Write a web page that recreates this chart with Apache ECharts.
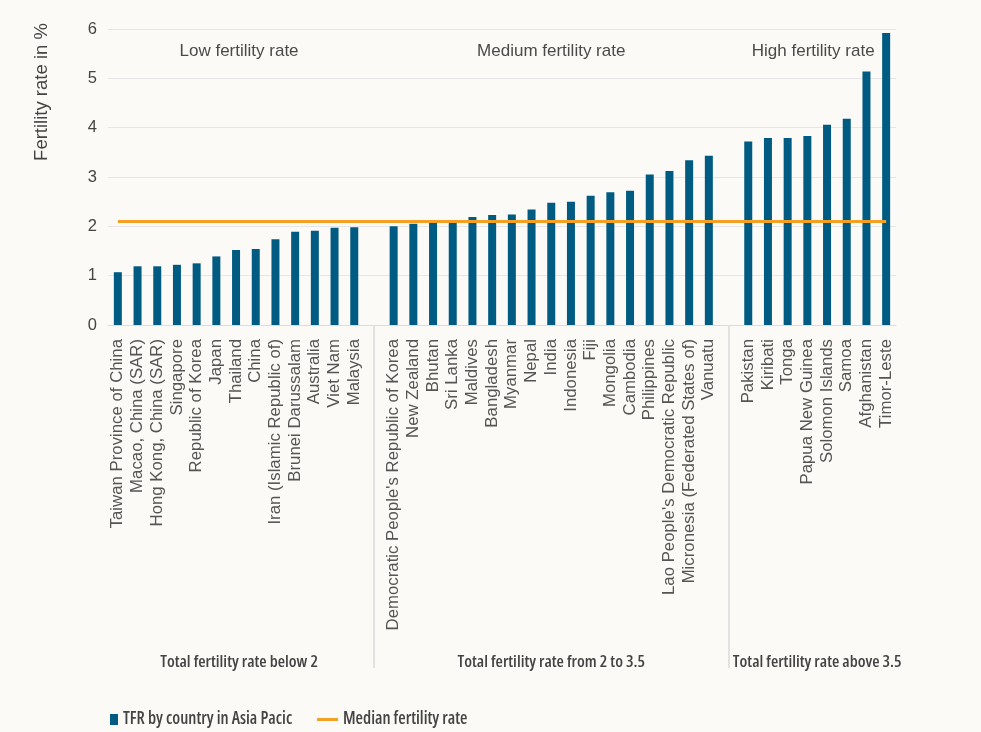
<!DOCTYPE html>
<html><head><meta charset="utf-8">
<script src="https://cdn.jsdelivr.net/npm/echarts@6/dist/echarts.min.js"></script>
<style>html,body{margin:0;padding:0;background:#fbfaf6;}#c{width:981px;height:732px;}</style>
</head><body><div id="c"></div>
<script>
// ---- data ----
const lowCountries = ['Taiwan Province of China','Macao, China (SAR)','Hong Kong, China (SAR)','Singapore','Republic of Korea','Japan','Thailand','China','Iran (Islamic Republic of)','Brunei Darussalam','Australia','Viet Nam','Malaysia'];
const lowValues = [1.07,1.19,1.19,1.22,1.25,1.39,1.52,1.54,1.74,1.89,1.91,1.97,1.98];
const medCountries = ["Democratic People's Republic of Korea",'New Zealand','Bhutan','Sri Lanka','Maldives','Bangladesh','Myanmar','Nepal','India','Indonesia','Fiji','Mongolia','Cambodia','Philippines',"Lao People's Democratic Republic",'Micronesia (Federated States of)','Vanuatu'];
const medValues = [2.00,2.05,2.08,2.08,2.19,2.23,2.24,2.34,2.48,2.50,2.62,2.69,2.72,3.05,3.12,3.34,3.43];
const highCountries = ['Pakistan','Kiribati','Tonga','Papua New Guinea','Solomon Islands','Samoa','Afghanistan','Timor-Leste'];
const highValues = [3.72,3.79,3.79,3.83,4.06,4.18,5.14,5.92];
const medianRate = 2.1;
const yTicks = [0,1,2,3,4,5,6];
const groupTopLabels = ['Low fertility rate','Medium fertility rate','High fertility rate'];
const groupBottomLabels = ['Total fertility rate below 2','Total fertility rate from 2 to 3.5','Total fertility rate above 3.5'];
const seriesNames = ['TFR by country in Asia Pacic','Median fertility rate'];
const yAxisTitle = 'Fertility rate in %';

// ---- build ----
const groups = [[lowCountries, lowValues],[medCountries, medValues],[highCountries, highValues]];
const categories = [], barData = [], gapIdx = [], groupRanges = [];
groups.forEach((g, gi) => {
  if (gi > 0) { gapIdx.push(categories.length); categories.push(' '.repeat(gi)); barData.push('-'); }
  const start = categories.length;
  g[0].forEach((c, i) => { categories.push(c); barData.push(g[1][i]); });
  groupRanges.push([start, categories.length - 1]);
});
const medianData = categories.map(() => medianRate);

// ---- layout / style ----
const BLUE = '#005b82', ORANGE = '#f3a024';
const SANS = "'Liberation Sans', Arial, sans-serif";
const COND = "'Open Sans', sans-serif";
const condText = {fontFamily: COND, fontStyle: 'condensed', fontWeight: 600, fontSize: 17, color: '#444'};
const topLabelShift = [3, 0, -4];
const bottomLabelShift = [3, 0, 0];

const chart = echarts.init(document.getElementById('c'), null, {renderer: 'canvas'});
chart.setOption({
  backgroundColor: '#fbfaf6',
  animation: false,
  grid: {left: 108, right: 85, top: 29, bottom: 407, containLabel: false},
  legend: [
    {data: [{name: seriesNames[0], icon: 'rect'}], left: 105, top: 706, itemWidth: 8, itemHeight: 11, itemGap: 6,
     textStyle: condText},
    {data: [{name: seriesNames[1], icon: 'rect'}], left: 312, top: 706, itemWidth: 21, itemHeight: 3,
     textStyle: condText}
  ],
  xAxis: {
    type: 'category', data: categories,
    axisLine: {show: true, lineStyle: {color: '#dcdcdc', width: 1}},
    axisTick: {show: true, alignWithLabel: true, length: 343,
      interval: (i) => gapIdx.indexOf(i) >= 0,
      lineStyle: {color: '#e2e2e2', width: 2}},
    axisLabel: {interval: 0, rotate: 90, fontFamily: SANS, fontSize: 16.8, color: '#555', margin: 14}
  },
  yAxis: {
    type: 'value', min: yTicks[0], max: yTicks[yTicks.length - 1], interval: 1,
    axisLine: {show: false}, axisTick: {show: false},
    axisLabel: {fontFamily: SANS, fontSize: 16.5, color: '#444', margin: 11},
    splitLine: {lineStyle: {color: '#e6e6e6', width: 1}}
  },
  series: [
    {name: seriesNames[0], type: 'bar', data: barData, barWidth: 8, itemStyle: {color: BLUE}, z: 2},
    {name: seriesNames[1], type: 'line', data: medianData, symbol: 'none', itemStyle: {color: ORANGE},
     lineStyle: {color: ORANGE, width: 3}, z: 3}
  ]
});

const graphics = [];
graphics.push({type: 'text', x: 42, y: 92, rotation: Math.PI / 2,
  style: {text: yAxisTitle, font: '18.5px ' + SANS, fill: '#444', textAlign: 'center', textVerticalAlign: 'middle'}});
groupRanges.forEach((r, gi) => {
  const x0 = chart.convertToPixel({xAxisIndex: 0}, r[0]);
  const x1 = chart.convertToPixel({xAxisIndex: 0}, r[1]);
  const cx = (x0 + x1) / 2;
  graphics.push({type: 'text', x: cx + topLabelShift[gi], y: 51,
    style: {text: groupTopLabels[gi], font: '17px ' + SANS, fill: '#4a4a4a', textAlign: 'center', textVerticalAlign: 'middle'}});
  graphics.push({type: 'text', x: cx + bottomLabelShift[gi], y: 662,
    style: {text: groupBottomLabels[gi], font: "condensed 600 16.8px 'Open Sans', sans-serif", fill: '#444', textAlign: 'center', textVerticalAlign: 'middle'}});
});
chart.setOption({graphic: graphics});
</script></body></html>
